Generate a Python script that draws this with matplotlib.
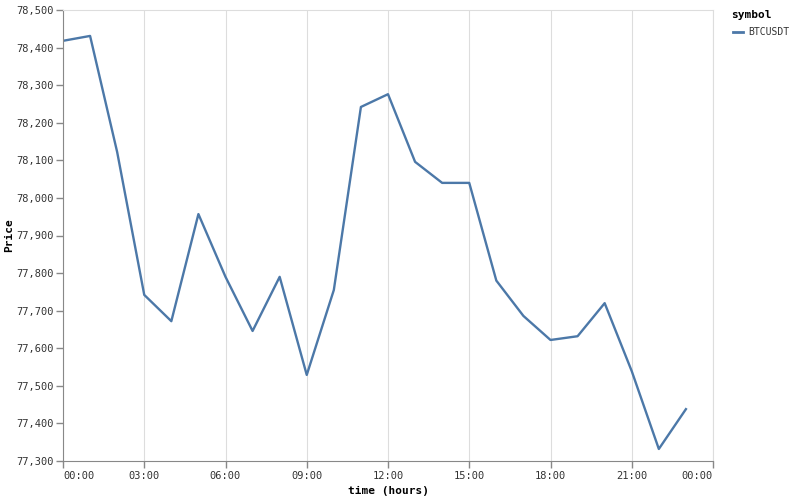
import matplotlib
matplotlib.use("Agg")
import matplotlib.pyplot as plt

hours = list(range(24))
price = [78418, 78431, 78122, 77742, 77672, 77957, 77790, 77646, 77790, 77529,
         77755, 78242, 78276, 78096, 78040, 78040, 77780, 77686, 77622, 77632,
         77720, 77539, 77332, 77438]
symbol = "BTCUSDT"
x_ticks = [0, 3, 6, 9, 12, 15, 18, 21, 24]
x_labels = ["00:00", "03:00", "06:00", "09:00", "12:00", "15:00", "18:00", "21:00", "00:00"]
y_ticks = list(range(77300, 78501, 100))

mono = "DejaVu Sans Mono"
fig = plt.figure(figsize=(7.94, 4.97), dpi=100)
ax = fig.add_axes([63/794, 36/497, 650/794, 451/497])
ax.plot(hours, price, color="#4c78a8", lw=1.7, label=symbol)
ax.set_xlim(0, 24)
ax.set_ylim(77300, 78500)
ax.set_xticks(x_ticks)
ax.set_xticklabels(x_labels, fontfamily=mono, fontsize=7.5, color="#333333")
labs = ax.get_xticklabels()
labs[0].set_ha("left")
labs[-1].set_ha("right")
ax.set_yticks(y_ticks)
ax.set_yticklabels([f"{v:,}" for v in y_ticks], fontfamily=mono, fontsize=7.5, color="#333333")
ax.tick_params(length=5, width=1, color="#888888", pad=2)
ax.grid(axis="x", color="#dddddd", lw=0.8)
ax.set_axisbelow(True)
for s in ["top", "right"]:
    ax.spines[s].set_color("#dddddd")
for s in ["left", "bottom"]:
    ax.spines[s].set_color("#888888")
ax.set_xlabel("time (hours)", fontfamily=mono, fontweight="bold", fontsize=8, labelpad=4)
ax.set_ylabel("Price", fontfamily=mono, fontweight="bold", fontsize=8, labelpad=1)

fig.text(731/794, 1 - 15/497, "symbol", fontfamily=mono, fontweight="bold", fontsize=8,
         va="center", ha="left")
fig.lines.append(matplotlib.lines.Line2D([733/794, 743/794], [1 - 32/497, 1 - 32/497],
                                         color="#4c78a8", lw=2, transform=fig.transFigure))
fig.text(748/794, 1 - 32/497, symbol, fontfamily=mono, fontsize=7, va="center", ha="left",
         color="#333333")
fig.savefig("out.png", dpi=100)
